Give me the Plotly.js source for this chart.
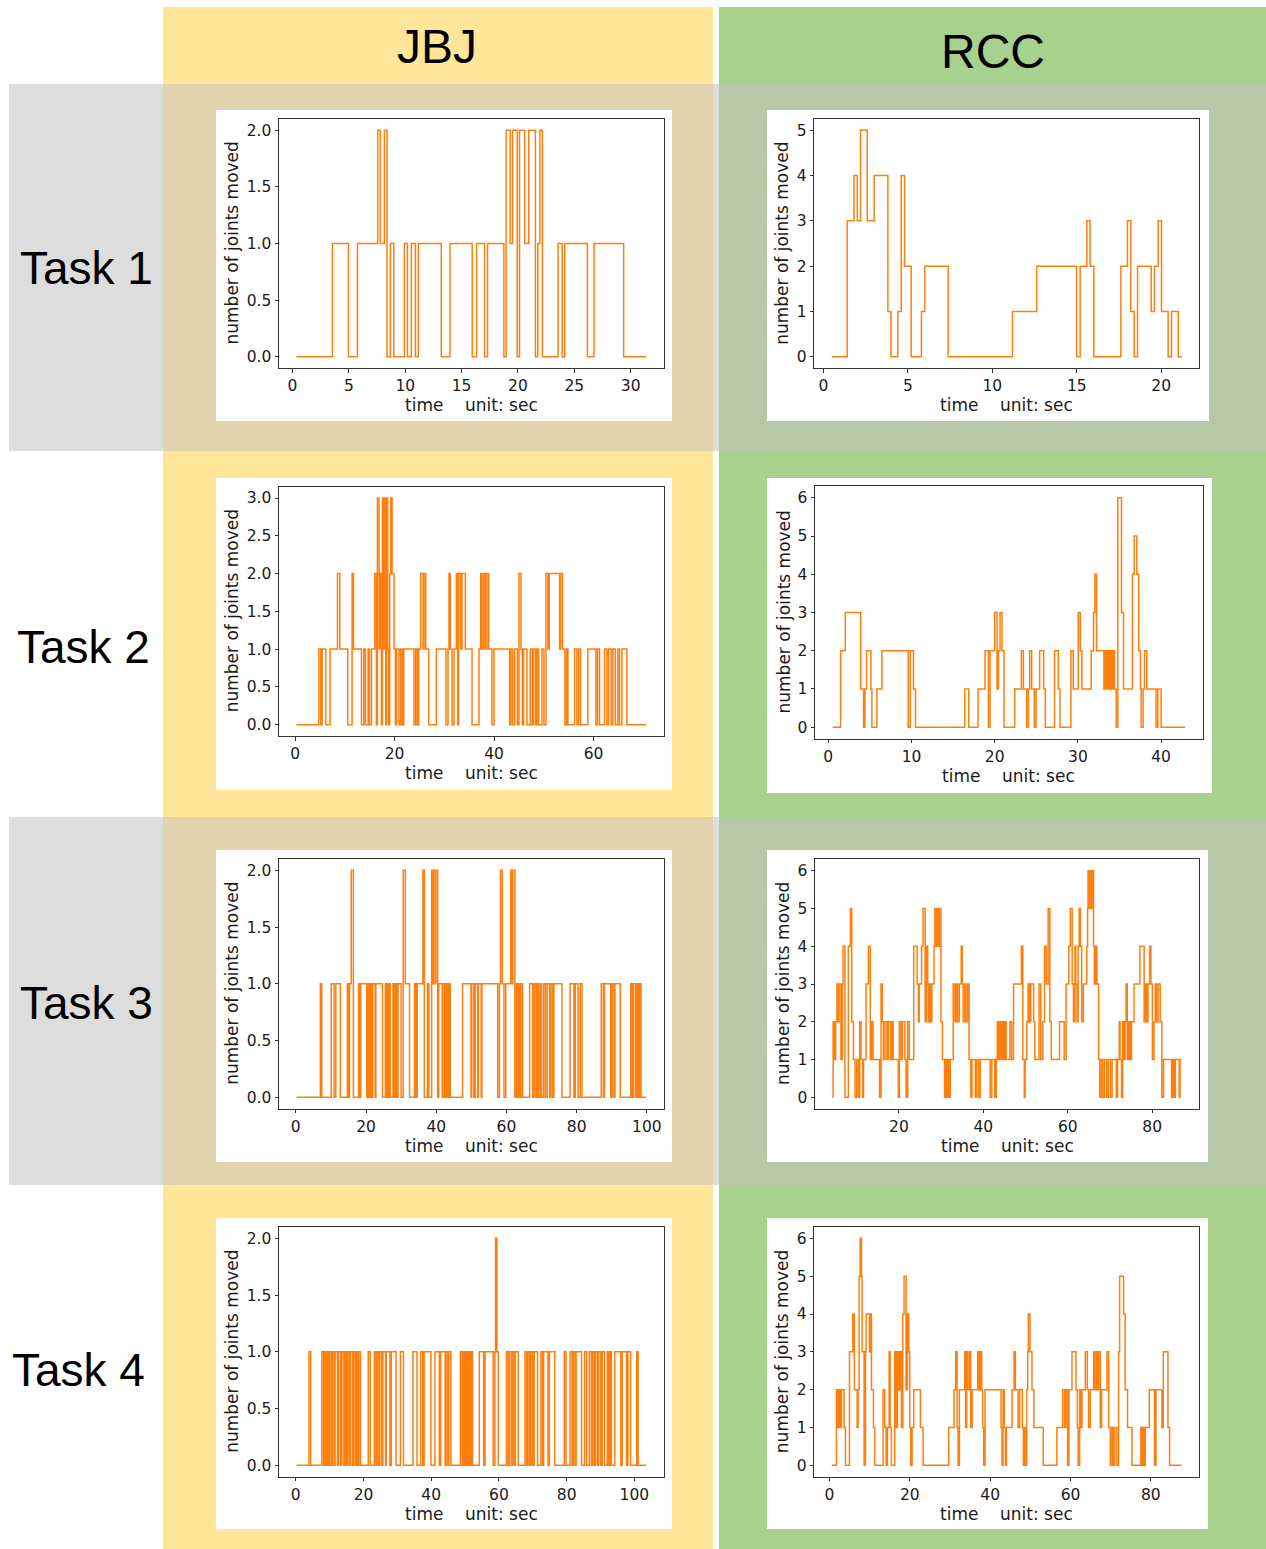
<!DOCTYPE html>
<html>
<head>
<meta charset="utf-8">
<script src="https://cdn.plot.ly/plotly-3.0.1.min.js"></script>
<style>html,body{margin:0;padding:0;background:#fff;}#chart{width:1266px;height:1549px;}</style>
</head>
<body>
<div id="chart"></div>
<script>
// ---------- DATA: [time (sec), number of joints moved] step series ----------
const columnLabels = ["JBJ", "RCC"];
const rowLabels = ["Task 1", "Task 2", "Task 3", "Task 4"];

const jbjTask1 = [[0.35,0],[3.54,1],[4.96,0],[5.76,1],[7.56,2],[7.79,1],[8.15,2],[8.38,0],[8.68,1],[8.98,0],
[9.92,1],[10.19,0],[10.54,1],[10.9,0],[11.16,1],[13.2,0],[13.97,1],[15.94,0],[16.33,1],[17.04,0],
[17.3,1],[18.75,0],[18.95,2],[19.31,1],[19.52,2],[19.93,0],[20.14,2],[20.6,1],[20.96,2],[21.55,0],
[21.76,1],[21.94,2],[22.17,0],[23.56,1],[23.92,0],[24.15,1],[26.16,0],[26.75,1],[29.38,0],[31.38,0]];

const rccTask1 = [[0.49,0],[1.4,3],[1.8,4],[2.0,3],[2.19,5],[2.59,3],[3.0,4],[3.81,1],[3.99,0],[4.4,1],
[4.6,4],[4.8,2],[5.19,0],[5.8,1],[6.0,2],[7.38,0],[11.19,1],[12.62,2],[14.99,0],[15.2,2],
[15.6,3],[15.79,2],[16.01,0],[17.61,2],[18.0,3],[18.2,1],[18.4,0],[18.6,2],[19.41,1],[19.6,2],
[19.82,3],[20.02,1],[20.41,0],[20.61,1],[21.01,0],[21.22,0]];

const jbjTask2 = [[0.27,0],[4.76,1],[5.16,0],[5.43,1],[6.16,0],[7.03,1],[8.51,2],[8.98,1],[10.58,0],[11.45,2],
[11.72,1],[13.33,0],[13.80,1],[14.13,0],[14.67,1],[14.94,0],[15.34,1],[16.01,2],[16.34,0],[16.54,3],
[16.88,1],[17.08,2],[17.35,0],[17.55,3],[17.75,1],[17.95,3],[18.22,0],[18.42,3],[18.62,1],[18.82,0],
[19.02,2],[19.22,3],[19.49,2],[19.89,1],[20.16,0],[20.43,1],[20.90,0],[21.23,1],[21.57,0],[21.84,1],
[23.91,0],[24.25,1],[24.58,0],[24.85,1],[25.25,2],[25.72,1],[25.92,2],[26.26,1],[26.86,0],[28.40,1],
[30.34,0],[30.74,1],[30.94,2],[31.21,1],[31.55,0],[31.95,1],[32.42,2],[32.69,0],[32.89,2],[33.29,1],
[33.56,2],[34.23,1],[35.57,0],[36.97,1],[37.31,2],[37.58,1],[37.91,2],[38.25,1],[38.58,2],[38.92,1],
[39.58,0],[39.99,1],[43.13,0],[43.40,1],[43.74,0],[44.14,1],[44.68,0],[45.01,2],[45.41,1],[45.68,0],
[45.95,1],[46.62,0],[47.29,1],[47.69,0],[47.96,1],[48.36,0],[48.63,1],[48.96,0],[49.63,1],[50.03,0],
[50.44,2],[50.84,1],[51.10,2],[53.18,1],[53.38,2],[53.78,1],[54.25,0],[54.59,1],[54.86,0],[56.20,1],
[56.66,0],[57.00,1],[57.40,0],[58.87,1],[60.48,0],[60.82,1],[61.22,0],[62.22,1],[62.69,0],[63.03,1],
[63.56,0],[63.90,1],[64.37,0],[64.90,1],[65.24,0],[65.71,1],[66.71,0],[70.60,0]];

const rccTask2 = [[0.52,0],[1.48,2],[2.04,3],[3.88,1],[4.24,0],[4.40,1],[4.60,2],[5.12,1],[5.24,0],[5.84,1],
[6.44,2],[9.6,0],[9.84,2],[10.24,1],[10.48,0],[16.4,1],[16.88,0],[18.0,1],[18.84,2],[19.24,0],
[19.44,2],[20.0,3],[20.28,1],[20.44,2],[20.64,3],[20.88,2],[21.12,0],[22.4,1],[23.2,2],[23.44,1],
[23.84,0],[24.04,1],[24.2,2],[24.44,1],[24.76,0],[24.96,1],[25.4,2],[25.88,1],[26.08,0],[27.2,2],
[27.64,1],[27.84,0],[29.16,2],[29.44,1],[30.04,3],[30.28,2],[30.48,1],[31.6,2],[31.88,3],[32.04,4],
[32.24,2],[33.12,1],[33.28,2],[33.44,1],[33.6,2],[33.76,1],[33.92,2],[34.08,1],[34.24,2],[34.4,1],
[34.6,0],[34.8,6],[35.24,3],[35.48,1],[36.56,4],[36.76,5],[37.08,4],[37.32,2],[37.52,1],[37.6,0],
[37.84,1],[38.0,2],[38.28,1],[39.4,0],[39.6,1],[40.0,0],[42.88,0]];

const jbjTask3 = [[0.2,0],[7.0,1],[7.4,0],[10.1,1],[10.9,0],[11.4,1],[12.7,0],[14.7,1],[15.0,0],[15.3,1],
[15.8,2],[16.4,0],[17.9,1],[18.2,0],[18.5,1],[20.2,0],[20.5,1],[20.9,0],[21.3,1],[21.7,0],
[21.9,1],[22.6,0],[22.8,1],[24.7,0],[25.5,1],[25.8,0],[26.1,1],[26.4,0],[26.7,1],[26.9,0],
[27.7,1],[28.1,0],[28.4,1],[28.8,0],[29.1,1],[30.0,0],[30.6,2],[31.2,1],[32.4,0],[33.8,1],
[34.2,0],[34.6,1],[36.2,2],[36.6,0],[37.5,1],[37.9,0],[38.7,2],[38.9,1],[39.2,2],[39.7,1],
[39.9,2],[40.4,0],[40.7,1],[41.7,0],[42.2,1],[42.5,0],[42.8,1],[43.2,0],[43.6,1],[44.0,0],
[47.5,1],[49.9,0],[50.1,1],[50.7,0],[51.1,1],[51.8,0],[52.0,1],[52.8,0],[53.0,1],[57.5,0],
[58.0,1],[58.3,2],[58.8,1],[59.3,0],[59.8,1],[61.2,2],[61.5,1],[61.8,2],[62.4,0],[62.8,1],
[63.1,0],[63.4,1],[63.8,0],[64.1,1],[64.6,0],[66.6,1],[67.5,0],[67.9,1],[68.4,0],[68.7,1],
[69.1,0],[69.6,1],[70.0,0],[70.6,1],[71.1,0],[71.6,1],[72.3,0],[72.6,1],[73.1,0],[73.5,1],
[75.8,0],[78.1,1],[79.2,0],[79.6,1],[80.4,0],[81.0,1],[81.5,0],[87.0,1],[87.6,0],[87.9,1],
[89.7,0],[90.1,1],[90.6,0],[90.9,1],[92.4,0],[95.4,1],[95.8,0],[96.2,1],[96.8,0],[97.2,1],
[97.6,0],[97.9,1],[98.3,0],[99.8,0]];

const rccTask3 = [[4.24,0],[4.4,2],[4.7,1],[5.0,2],[5.3,3],[5.55,2],[5.8,3],[6.25,1],[6.6,3],[6.75,4],
[7.2,0],[8.0,4],[8.5,5],[8.8,2],[9.2,1],[9.6,0],[10.0,1],[10.4,0],[10.7,2],[11.0,1],
[11.4,0],[11.6,1],[12.2,3],[12.75,4],[13.2,1],[13.5,2],[13.85,1],[15.4,0],[15.75,3],[16.05,2],
[16.3,1],[16.7,2],[17.15,1],[17.5,2],[18.0,1],[18.25,2],[18.6,1],[19.85,0],[20.1,2],[20.5,1],
[20.8,2],[21.4,1],[21.7,0],[22.05,2],[22.45,1],[23.5,4],[24.3,3],[24.6,2],[24.8,3],[25.35,4],
[25.7,5],[26.2,2],[26.5,4],[26.8,3],[26.95,2],[27.2,3],[27.5,2],[27.8,3],[28.3,4],[28.5,5],
[28.7,4],[28.85,5],[29.0,4],[29.2,5],[29.3,4],[29.55,5],[29.95,2],[30.3,1],[30.8,0],[31.05,1],
[31.3,0],[31.5,1],[31.8,0],[32.15,1],[32.85,3],[33.25,2],[33.6,3],[33.9,2],[34.3,3],[34.75,4],
[35.0,3],[35.2,2],[35.6,3],[35.9,2],[36.3,3],[36.6,1],[37.04,0],[37.3,1],[38.1,0],[38.4,1],
[38.85,0],[39.25,1],[41.6,0],[42.0,1],[42.7,0],[43.05,1],[43.3,2],[43.5,1],[43.75,2],[44.0,1],
[44.2,2],[44.45,1],[44.7,2],[44.95,1],[45.2,2],[45.4,1],[46.3,2],[46.7,1],[47.15,3],[49.0,4],
[49.35,1],[49.7,0],[49.9,1],[50.3,2],[50.6,3],[50.95,2],[51.25,3],[51.9,2],[52.2,1],[53.2,3],
[53.6,1],[54.1,2],[54.5,4],[54.9,3],[55.35,5],[55.75,2],[56.1,1],[58.05,2],[59.15,1],[59.6,3],
[60.25,4],[60.6,5],[61.04,3],[61.35,2],[61.7,4],[61.9,3],[62.2,2],[62.45,4],[62.7,5],[63.0,4],
[63.3,2],[63.7,3],[64.5,4],[64.7,5],[64.8,6],[65.06,5],[65.3,6],[65.5,5],[65.8,6],[66.1,4],
[66.3,3],[66.6,4],[66.9,3],[67.3,1],[67.6,0],[67.9,1],[68.3,0],[68.7,1],[69.2,0],[69.6,1],
[70.1,0],[70.5,1],[71.5,0],[71.8,1],[72.2,2],[72.4,1],[72.75,0],[73.0,2],[73.3,1],[73.6,2],
[73.8,3],[74.1,1],[74.45,2],[74.8,1],[75.1,2],[75.7,3],[77.1,4],[78.1,2],[78.4,3],[78.7,2],
[79.0,3],[79.4,4],[79.7,3],[80.05,1],[80.45,2],[80.75,3],[81.0,2],[81.4,3],[81.9,2],[82.3,0],
[82.7,1],[84.6,0],[84.9,1],[85.2,0],[85.5,1],[86.4,0],[86.6,1],[86.96,1]];

const jbjTask4 = [[0.2,0],[3.9,1],[4.4,0],[7.7,1],[8.2,0],[8.5,1],[8.8,0],[9.2,1],[9.6,0],[9.9,1],
[10.4,0],[10.8,1],[11.3,0],[11.6,1],[12.3,0],[12.6,1],[13.2,0],[13.6,1],[14.2,0],[14.55,1],
[15.0,0],[15.3,1],[15.8,0],[16.1,1],[16.7,0],[17.0,1],[17.5,0],[17.9,1],[18.3,0],[18.6,1],
[19.1,0],[21.4,1],[22.0,0],[23.2,1],[23.7,0],[24.0,1],[24.5,0],[24.8,1],[25.4,0],[25.7,1],
[26.5,0],[26.7,1],[27.8,0],[28.2,1],[29.6,0],[30.9,1],[31.8,0],[34.6,1],[35.8,0],[36.9,1],
[37.5,0],[37.9,1],[39.9,0],[41.1,1],[42.4,0],[42.8,1],[44.1,0],[44.4,1],[44.9,0],[45.2,1],
[45.8,0],[48.6,1],[49.1,0],[49.5,1],[49.9,0],[50.1,1],[50.4,0],[50.7,1],[51.0,0],[51.3,1],
[51.6,0],[51.9,1],[52.2,0],[54.2,1],[55.5,0],[55.9,1],[58.3,0],[58.8,1],[59.0,2],[59.4,1],
[59.8,0],[62.2,1],[62.7,0],[63.1,1],[63.7,0],[64.0,1],[64.5,0],[64.8,1],[65.7,0],[67.7,1],
[68.2,0],[68.6,1],[69.1,0],[69.5,1],[70.0,0],[70.4,1],[71.4,0],[72.4,1],[72.9,0],[73.2,1],
[74.5,0],[74.9,1],[76.5,0],[79.3,1],[79.8,0],[81.0,1],[81.6,0],[82.0,1],[82.5,0],[82.8,1],
[84.4,0],[85.3,1],[85.9,0],[86.7,1],[87.3,0],[87.7,1],[88.2,0],[88.5,1],[89.1,0],[89.5,1],
[90.1,0],[90.5,1],[91.2,0],[92.0,1],[92.4,0],[92.8,1],[93.2,0],[94.2,1],[96.0,0],[96.4,1],
[97.7,0],[98.1,1],[98.9,0],[100.7,1],[101.1,0],[103.5,0]];

const rccTask4 = [[0.58,0],[1.74,2],[2.07,1],[2.32,2],[2.65,1],[2.99,2],[3.65,1],[3.98,0],[4.98,3],[5.8,4],
[6.2,2],[6.9,1],[7.13,2],[7.38,5],[7.63,6],[7.96,5],[8.13,3],[8.62,0],[8.96,3],[9.12,4],
[9.95,3],[10.2,4],[10.45,2],[10.95,1],[11.28,0],[13.35,2],[13.76,1],[14.1,0],[14.43,1],[14.84,3],
[15.1,1],[15.42,0],[16.25,3],[16.58,1],[16.92,3],[17.25,2],[17.58,3],[17.9,1],[18.25,4],[18.57,5],
[19.07,2],[19.4,4],[19.73,3],[19.98,1],[20.23,0],[20.56,1],[20.98,2],[22.64,1],[23.3,0],[29.68,1],
[31.0,2],[31.43,3],[31.76,1],[32.0,0],[32.34,2],[33.67,3],[33.9,1],[34.16,3],[34.4,2],[34.83,3],
[35.16,1],[35.5,2],[36.9,3],[37.23,2],[37.56,3],[37.9,2],[38.14,1],[38.4,0],[38.72,2],[42.7,1],
[42.95,0],[43.2,2],[43.5,1],[43.8,0],[44.03,1],[45.44,2],[45.94,3],[46.27,2],[46.93,1],[47.35,2],
[48.0,1],[48.26,0],[48.5,1],[48.84,0],[49.1,2],[49.34,3],[49.5,4],[49.9,3],[50.4,2],[50.9,1],
[53.2,0],[56.6,1],[58.04,2],[58.5,1],[58.87,2],[59.28,0],[59.6,2],[60.36,3],[61.36,2],[61.7,1],
[61.9,0],[62.27,2],[62.6,1],[62.85,2],[63.68,3],[64.18,2],[64.5,1],[64.9,2],[65.76,3],[66.0,2],
[66.4,3],[66.75,2],[67.0,3],[67.4,1],[67.74,2],[69.07,3],[69.5,1],[69.9,0],[70.3,1],[70.65,0],
[71.06,1],[71.56,0],[71.97,3],[72.22,5],[73.2,4],[73.6,2],[74.2,1],[75.3,0],[77.5,1],[77.8,0],
[77.94,1],[78.3,0],[78.6,1],[79.6,2],[80.9,0],[81.26,2],[82.75,1],[83.1,3],[84.25,1],[84.66,0],[87.7,0]];

const xTitle = "time\u00A0\u00A0\u00A0\u00A0unit: sec";
const yTitle = "number of joints moved";

// ---------- LAYOUT (pixel geometry) ----------
const W = 1266, H = 1549;
const fx = p => p / W;
const fy = p => 1 - p / H;

const panels = [
  {data: jbjTask1, axes: [279, 119, 663.7, 368],   card: [216, 110, 672, 421],  dx: 5,  dy: 0.5, fmt: '.1f', tpad: 47},
  {data: rccTask1, axes: [814.3, 119, 1199.3, 368], card: [767, 110, 1209, 421], dx: 5,  dy: 1,   fmt: 'd',   tpad: 32},
  {data: jbjTask2, axes: [279, 486.7, 663.7, 736], card: [216, 478, 672, 790],  dx: 20, dy: 0.5, fmt: '.1f', tpad: 47},
  {data: rccTask2, axes: [815, 486.3, 1202.7, 738.7], card: [767, 478, 1212, 793], dx: 10, dy: 1, fmt: 'd', tpad: 32},
  {data: jbjTask3, axes: [279, 859, 663.7, 1108.7], card: [216, 850, 672, 1162], dx: 20, dy: 0.5, fmt: '.1f', tpad: 47},
  {data: rccTask3, axes: [815, 859.3, 1199, 1108.7], card: [767, 850, 1208, 1162], dx: 20, dy: 1, fmt: 'd', tpad: 32},
  {data: jbjTask4, axes: [279, 1227, 663.7, 1476.7], card: [216, 1218, 672, 1529], dx: 20, dy: 0.5, fmt: '.1f', tpad: 47},
  {data: rccTask4, axes: [814.3, 1227, 1199.3, 1476.7], card: [767, 1218, 1208, 1529], dx: 20, dy: 1, fmt: 'd', tpad: 32}
];

function rect(x0, y0, x1, y1, color) {
  return {type: 'rect', xref: 'paper', yref: 'paper', layer: 'below',
    x0: fx(x0), x1: fx(x1), y0: fy(y1), y1: fy(y0),
    line: {width: 0}, fillcolor: color};
}
function padRange(vals) {
  const lo = Math.min(...vals), hi = Math.max(...vals), m = 0.05 * (hi - lo);
  return [lo - m, hi + m];
}

const shapes = [
  rect(163, 7, 713, H, '#FFE699'),
  rect(719, 7, W, H, '#A9D18E'),
  // gray row bands (Task 1 and Task 3)
  rect(9, 84, 163, 451, '#DDDDDD'), rect(163, 84, 713, 451, '#E0D3AE'),
  rect(713, 84, 719, 451, '#DDDDDD'), rect(719, 84, W, 451, '#B6C8A8'),
  rect(9, 817, 163, 1185, '#DDDDDD'), rect(163, 817, 713, 1185, '#E0D3AE'),
  rect(713, 817, 719, 1185, '#DDDDDD'), rect(719, 817, W, 1185, '#B6C8A8')
];

const traces = [];
const layout = {
  width: W, height: H,
  margin: {l: 0, r: 0, t: 0, b: 0, pad: 0},
  paper_bgcolor: '#ffffff', plot_bgcolor: '#ffffff',
  showlegend: false,
  shapes: shapes,
  annotations: []
};

const FS = 17, TFS = 15.5;
const tickFont = {family: 'DejaVu Sans', size: TFS, color: '#1a1a1a'};
const axisCommon = {showline: true, mirror: true, linecolor: '#333', linewidth: 1,
  ticks: 'outside', ticklen: 3.5, tickwidth: 1, tickcolor: '#333',
  showgrid: false, zeroline: false, tickfont: tickFont, tick0: 0, fixedrange: true};

panels.forEach((p, i) => {
  const k = i + 1;
  const xs = p.data.map(d => d[0]);
  const ys = p.data.map(d => d[1]);
  shapes.push(rect(p.card[0], p.card[1], p.card[2], p.card[3], '#ffffff'));
  traces.push({type: 'scatter', mode: 'lines', x: xs, y: ys,
    xaxis: 'x' + (k === 1 ? '' : k), yaxis: 'y' + (k === 1 ? '' : k),
    line: {color: '#ff7f0e', width: 1.5, shape: 'hv'}, hoverinfo: 'skip'});
  const [ax0, ay0, ax1, ay1] = p.axes;
  layout['xaxis' + (k === 1 ? '' : k)] = Object.assign({}, axisCommon, {
    domain: [fx(ax0), fx(ax1)], range: padRange(xs), dtick: p.dx,
    anchor: 'y' + (k === 1 ? '' : k)});
  layout['yaxis' + (k === 1 ? '' : k)] = Object.assign({}, axisCommon, {
    domain: [fy(ay1), fy(ay0)], range: padRange(ys), dtick: p.dy,
    tickformat: p.fmt === '.1f' ? '.1f' : 'd',
    anchor: 'x' + (k === 1 ? '' : k)});
  layout.annotations.push({xref: 'paper', yref: 'paper', showarrow: false,
    x: fx((ax0 + ax1) / 2), y: fy(ay1 + 37), xanchor: 'center', yanchor: 'middle',
    text: xTitle, font: {family: 'DejaVu Sans', size: FS, color: '#1a1a1a'}});
  layout.annotations.push({xref: 'paper', yref: 'paper', showarrow: false,
    x: fx(ax0 - p.tpad), y: fy((ay0 + ay1) / 2), xanchor: 'center', yanchor: 'middle',
    textangle: -90, text: yTitle, font: {family: 'DejaVu Sans', size: FS, color: '#1a1a1a'}});
});

// column headers and row labels
const headerPos = [[437, 46], [993, 51]];
columnLabels.forEach((t, i) => layout.annotations.push({xref: 'paper', yref: 'paper', showarrow: false,
  x: fx(headerPos[i][0]), y: fy(headerPos[i][1]), xanchor: 'center', yanchor: 'middle',
  text: t, font: {family: 'Liberation Sans, Arial, sans-serif', size: 48, color: '#000'}}));
const rowPos = [[86, 268], [83, 647], [86, 1003], [78, 1370]];
rowLabels.forEach((t, i) => layout.annotations.push({xref: 'paper', yref: 'paper', showarrow: false,
  x: fx(rowPos[i][0]), y: fy(rowPos[i][1]), xanchor: 'center', yanchor: 'middle',
  text: t, font: {family: 'Liberation Sans, Arial, sans-serif', size: 46, color: '#000'}}));

Plotly.newPlot('chart', traces, layout, {displayModeBar: false, staticPlot: true});
</script>
</body>
</html>
